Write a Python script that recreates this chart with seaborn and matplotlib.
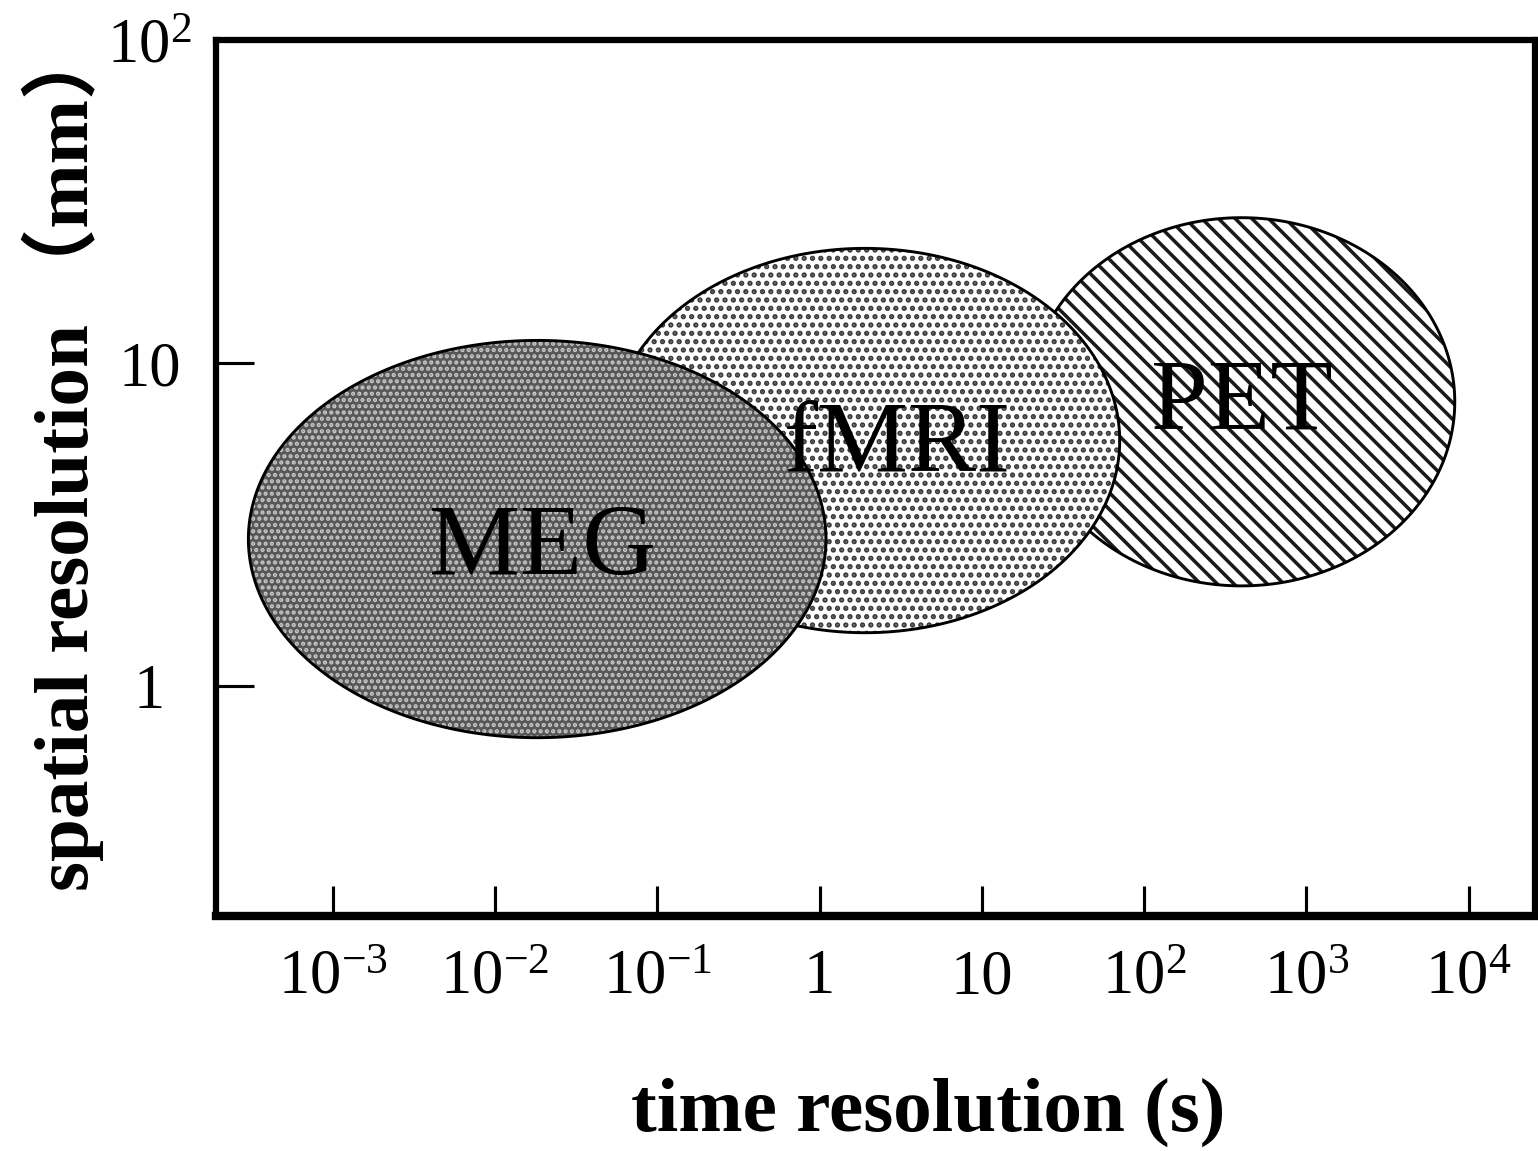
import numpy as np
import seaborn as sns
import matplotlib.pyplot as plt
from matplotlib.ticker import FixedLocator, NullLocator

# ellipses in decades (log10), listed back to front
techniques = ['PET', 'fMRI', 'MEG']
log_time_center = [2.60, 0.28, -1.74]
log_time_width = [2.63, 3.14, 3.56]
log_space_center = [0.88, 0.76, 0.455]
log_space_height = [1.14, 1.19, 1.23]

x_tick_exps = [-3, -2, -1, 0, 1, 2, 3, 4]
x_tick_labels = [r'$10^{-3}$', r'$10^{-2}$', r'$10^{-1}$', '1', '10',
                 r'$10^{2}$', r'$10^{3}$', r'$10^{4}$']
y_tick_exps = [0, 1, 2]
y_tick_labels = ['1', '10', r'$10^{2}$']

# looks for each ellipse (dx/dy = label offset in decades)
styles = {
    'PET': dict(face='white', hatch_color='#1a1a1a', hatch='\\\\\\', hlw=1.7, dx=0.0, dy=-0.01),
    'fMRI': dict(face='white', hatch_color='#3a3a3a', hatch='...', hlw=1.7, dx=0.2, dy=-0.02),
    'MEG': dict(face='#585858', hatch_color='#c8c8c8', hatch='....', hlw=1.4, dx=0.03, dy=-0.035),
}

sns.set_theme(style='white')
plt.rcParams['font.family'] = ['Liberation Serif', 'Noto Sans CJK JP']
plt.rcParams['mathtext.fontset'] = 'custom'
plt.rcParams['mathtext.rm'] = 'Liberation Serif'
plt.rcParams['mathtext.it'] = 'Liberation Serif:italic'
plt.rcParams['mathtext.bf'] = 'Liberation Serif:bold'

fig = plt.figure(figsize=(1538 / 150, 1151 / 150), dpi=150)
ax = fig.add_axes([0.1404, 0.2042, 0.8577, 0.7610])
ax.set_xscale('log')
ax.set_yscale('log')

theta = np.linspace(0, 2 * np.pi, 400)
for i, name in enumerate(techniques):
    st = styles[name]
    lx = log_time_center[i] + log_time_width[i] / 2 * np.cos(theta)
    ly = log_space_center[i] + log_space_height[i] / 2 * np.sin(theta)
    plt.rcParams['hatch.linewidth'] = st['hlw']
    ax.fill(10 ** lx, 10 ** ly, facecolor=st['face'], edgecolor=st['hatch_color'],
            hatch=st['hatch'], linewidth=0, zorder=1 + i)
    ax.fill(10 ** lx, 10 ** ly, facecolor='none', edgecolor='black',
            linewidth=1.4, zorder=1.1 + i)
    ax.text(10 ** (log_time_center[i] + st['dx']), 10 ** (log_space_center[i] + st['dy']), name,
            ha='center', va='center', fontsize=49, color='black', zorder=10)

ax.set_xlim(10 ** -3.72, 10 ** 4.41)
ax.set_ylim(10 ** -0.712, 10 ** 2)

ax.xaxis.set_major_locator(FixedLocator([10.0 ** e for e in x_tick_exps]))
ax.xaxis.set_minor_locator(NullLocator())
ax.set_xticklabels(x_tick_labels)
ax.yaxis.set_major_locator(FixedLocator([10.0 ** e for e in y_tick_exps]))
ax.yaxis.set_minor_locator(NullLocator())
ax.set_yticklabels(y_tick_labels)

ax.tick_params(axis='x', direction='in', length=14.5, width=1.5, pad=16,
               labelsize=30, colors='black', bottom=True)
ax.tick_params(axis='y', direction='in', length=18, width=1.5, pad=32,
               labelsize=30, colors='black', left=True)
plt.setp(ax.get_yticklabels(), ha='center')

for side in ['top', 'right', 'left']:
    ax.spines[side].set_linewidth(3)
    ax.spines[side].set_color('black')
ax.spines['bottom'].set_linewidth(4)
ax.spines['bottom'].set_color('black')

ax.set_xlabel('time resolution (s)', fontsize=37, fontweight='bold', color='black')
ax.xaxis.set_label_coords(0.54, -0.185)
ax.set_ylabel('spatial resolution （mm）', fontsize=37, fontweight='bold', color='black')
ax.yaxis.set_label_coords(-0.085, 0.525)

fig.savefig('out.png', dpi=150)
